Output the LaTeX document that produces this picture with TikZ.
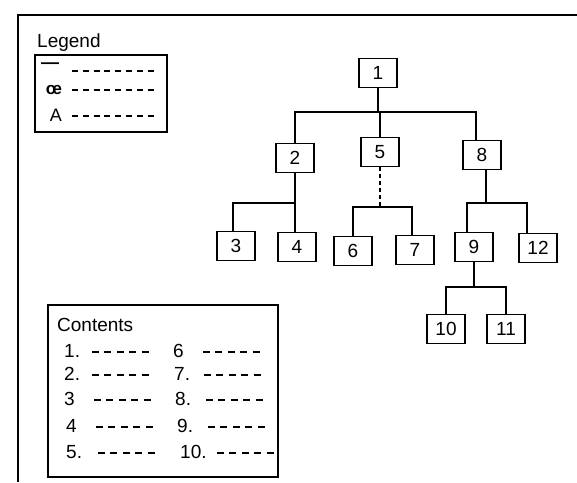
\documentclass[tikz,border=0pt]{standalone}
\usepackage{fontspec}
\setmainfont{Liberation Sans}
\begin{document}
\begin{tikzpicture}[x=1pt,y=-1pt,
  box/.style={draw, line width=1.9pt, minimum width=38pt, minimum height=29pt, inner sep=0pt, font=\fontsize{19}{19}\selectfont},
  link/.style={line width=1.7pt},
  faint/.style={line width=1.1pt, dash pattern=on 4pt off 3pt},
  ldots/.style={line width=2pt, dash pattern=on 6pt off 4.8pt},
  cdots/.style={line width=2.2pt, dash pattern=on 7pt off 5.4pt},
  lbl/.style={font=\fontsize{19}{19}\selectfont, inner sep=0pt, anchor=west},
  frame/.style={draw, line width=1.9pt}]
\useasboundingbox (0,0) rectangle (577,482);
% outer frame (cropped at right and bottom)
\draw[line width=2pt] (18,482) -- (18,15) -- (577,15);

% ---------- tree ----------
\node[box] (n1)  at (378,73)  {1};
\node[box] (n2)  at (295,158) {2};
\node[box] (n5)  at (380,152) {5};
\node[box] (n8)  at (482,155) {8};
\node[box] (n3)  at (236,246) {3};
\node[box] (n4)  at (297,247) {4};
\node[box] (n6)  at (353,251) {6};
\node[box] (n7)  at (415,250) {7};
\node[box] (n9)  at (474,247) {9};
\node[box] (n12) at (538,248) {12};
\node[box] (n10) at (446,329) {10};
\node[box] (n11) at (506,329) {11};

\coordinate (y1) at (0,112);
\coordinate (y2) at (0,203);
\coordinate (y5) at (0,207);
\coordinate (y9) at (0,287);

% level 1
\draw[link] (n1.south) -- (n1.south |- y1);
\draw[link] (n2.north) |- ([xshift=-6pt]n8.north |- y1) -- ([xshift=-6pt]n8.north);
\draw[link] (n5.north) -- (n5.north |- y1);
% node 2
\draw[link] (n2.south) -- (n2.south |- y2);
\draw[link] ([xshift=-3pt]n3.north) |- (n2.south |- y2);
\draw[link] ([xshift=-2pt]n4.north) -- ([xshift=-2pt]n4.north |- y2);
% node 5
\draw[faint] (n5.south) -- (n5.south |- y5);
\draw[line width=1.3pt] (n6.north) |- ([xshift=-3pt]n7.north |- y5) -- ([xshift=-3pt]n7.north);
% node 8
\draw[link] ([xshift=4pt]n8.south) -- ([xshift=4pt]n8.south |- y2);
\draw[link] ([xshift=-7pt]n9.north) |- ([xshift=-11pt]n12.north |- y2) -- ([xshift=-11pt]n12.north);
% node 9
\draw[link] (n9.south) -- (n9.south |- y9);
\draw[link] (n10.north) |- (n11.north |- y9) -- (n11.north);

% ---------- legend ----------
\node[lbl] (lgt) at (37,43) {Legend};
\draw[frame] (35,55) rectangle (167,132);
\node[font=\fontsize{18}{18}\selectfont\bfseries, inner sep=0pt] (s1) at (50,66) {—};
\node[font=\fontsize{17}{17}\selectfont\bfseries, inner sep=0pt] (s2) at (54,90) {œ};
\node[font=\fontsize{18}{18}\selectfont, inner sep=0pt] (s3) at (56,115) {A};
\draw[ldots] (72,71) -- (153.6,71);
\draw[ldots] (72,90) -- (153.6,90);
\draw[ldots] (72,116) -- (153.6,116);

% ---------- contents ----------
\draw[frame] (48,305) rectangle (278,477);
\node[lbl] (ct) at (57,325) {Contents};
\node[lbl] (c1) at (64,351) {1.};
\node[lbl] (c2) at (64,374) {2.};
\node[lbl] (c3) at (64,399) {3};
\node[lbl] (c4) at (66,426) {4};
\node[lbl] (c5) at (66,452) {5.};
\draw[cdots] (92,352) -- (148.6,352);
\draw[cdots] (92,375) -- (148.6,375);
\draw[cdots] (94,400) -- (150.6,400);
\draw[cdots] (96,427) -- (152.6,427);
\draw[cdots] (98,453) -- (154.6,453);
\node[lbl] (c6) at (173,351) {6};
\node[lbl] (c7) at (174,374) {7.};
\node[lbl] (c8) at (175,399) {8.};
\node[lbl] (c9) at (177,426) {9.};
\node[lbl] (c10) at (180,452) {10.};
\draw[cdots] (203,352) -- (259.6,352);
\draw[cdots] (204,375) -- (260.6,375);
\draw[cdots] (206,400) -- (262.6,400);
\draw[cdots] (208,427) -- (264.6,427);
\draw[cdots] (217,453) -- (273.6,453);
\end{tikzpicture}
\end{document}
